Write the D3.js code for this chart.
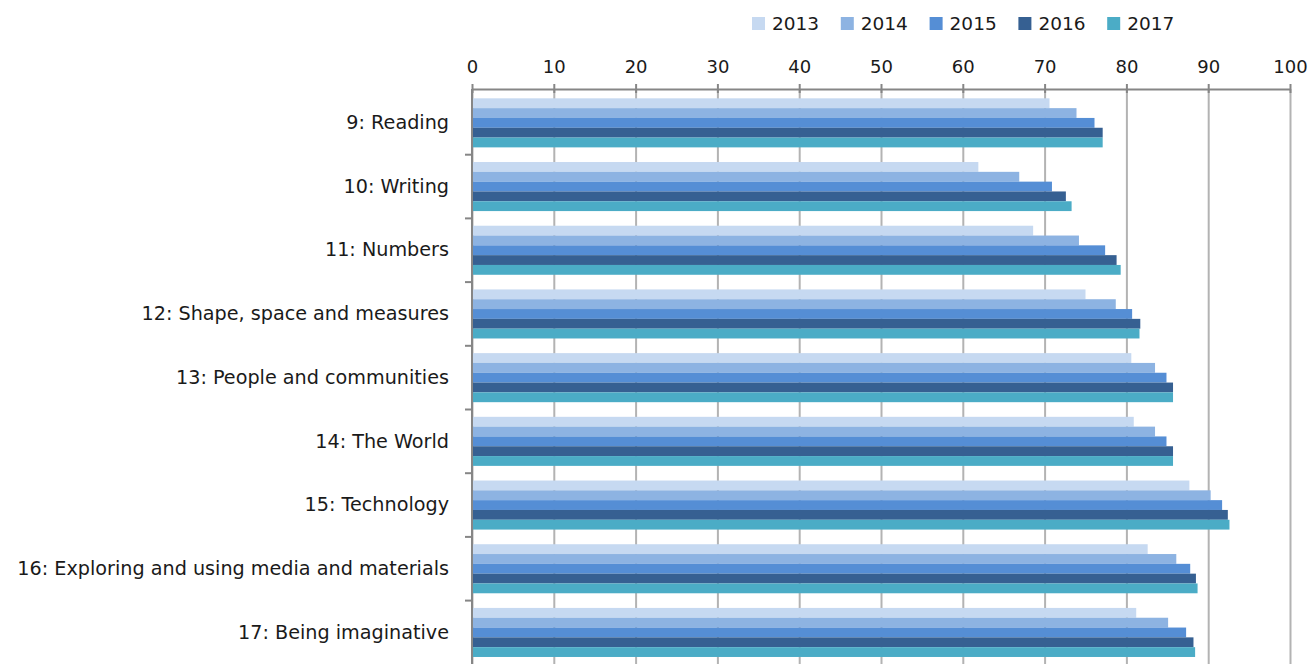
<!DOCTYPE html>
<html>
<head>
<meta charset="utf-8">
<script src="https://cdn.jsdelivr.net/npm/d3@7"></script>
<style>
  body { margin: 0; background: #fff; }
  text { font-family: "DejaVu Sans", "Open Sans", sans-serif; fill: #1a1a1a; }
</style>
</head>
<body>
<div id="chart"></div>
<script>
// data
const categories = ["9: Reading", "10: Writing", "11: Numbers", "12: Shape, space and measures",
  "13: People and communities", "14: The World", "15: Technology",
  "16: Exploring and using media and materials", "17: Being imaginative"];
const years = ["2013", "2014", "2015", "2016", "2017"];
const v2013 = [70.6, 61.9, 68.6, 75.0, 80.6, 80.9, 87.7, 82.6, 81.2];
const v2014 = [73.9, 66.9, 74.2, 78.7, 83.5, 83.5, 90.3, 86.1, 85.1];
const v2015 = [76.1, 70.9, 77.4, 80.7, 84.9, 84.9, 91.7, 87.8, 87.3];
const v2016 = [77.1, 72.6, 78.8, 81.7, 85.7, 85.7, 92.4, 88.5, 88.2];
const v2017 = [77.1, 73.3, 79.3, 81.6, 85.7, 85.7, 92.6, 88.7, 88.4];
const xTicks = [0, 10, 20, 30, 40, 50, 60, 70, 80, 90, 100];
const colors = ["#c6d9f1", "#8db3e2", "#558ed5", "#366092", "#4bacc6"];

const series = [v2013, v2014, v2015, v2016, v2017];

// dimensions
const width = 1311, height = 664;
const margin = {top: 91, right: 21, bottom: -0.3, left: 472};

const svg = d3.select("#chart")
    .append("svg")
    .attr("width", width)
    .attr("height", height);

const x = d3.scaleLinear()
    .domain([0, 100])
    .range([margin.left, width - margin.right]);

const y0 = d3.scaleBand()
    .domain(categories)
    .range([margin.top, height - margin.bottom]);

const bw = y0.bandwidth();
const y1 = d3.scaleBand()
    .domain(years)
    .range([bw * 0.115, bw * 0.885]);

// gridlines
svg.append("g")
    .attr("transform", `translate(0, ${margin.top - 2})`)
    .call(d3.axisTop(x).tickValues(xTicks).tickSize(-(height - margin.top + 4)).tickFormat(""))
    .call(g => g.select(".domain").remove())
    .call(g => g.selectAll("line").attr("stroke", "#b3b3b3").attr("stroke-width", 2));

// bars
const groups = svg.append("g")
    .selectAll("g")
    .data(categories)
    .join("g")
    .attr("transform", d => `translate(0, ${y0(d)})`);

groups.selectAll("rect")
    .data((c, i) => years.map((yr, j) => ({year: yr, value: series[j][i], color: colors[j]})))
    .join("rect")
    .attr("x", x(0))
    .attr("y", d => y1(d.year))
    .attr("width", d => x(d.value) - x(0))
    .attr("height", y1.bandwidth())
    .attr("fill", d => d.color);

// top axis
const xAxis = svg.append("g")
    .attr("transform", `translate(0, ${margin.top - 2})`)
    .call(d3.axisTop(x).tickValues(xTicks).tickSize(5).tickSizeOuter(0).tickPadding(11));
xAxis.select(".domain").attr("stroke", "#868686").attr("stroke-width", 2);
xAxis.selectAll(".tick line").attr("stroke", "#868686").attr("stroke-width", 2)
    .attr("y2", -5).clone().attr("y2", 4);
xAxis.selectAll("text").style("font-size", "18px").attr("fill", "#1a1a1a");

// left axis
const yAxis = svg.append("g")
    .attr("transform", `translate(${x(0)}, 0)`)
    .call(d3.axisLeft(y0).tickSize(0).tickPadding(23));
yAxis.select(".domain").attr("stroke", "#868686").attr("stroke-width", 2)
    .attr("d", `M0,${margin.top - 2}V${height}`);
yAxis.selectAll("text").style("font-size", "19.2px").attr("fill", "#1a1a1a");

// category boundary ticks
svg.append("g")
    .selectAll("line")
    .data(categories.slice(1))
    .join("line")
    .attr("x1", x(0) - 7)
    .attr("x2", x(0))
    .attr("y1", d => y0(d))
    .attr("y2", d => y0(d))
    .attr("stroke", "#868686")
    .attr("stroke-width", 2);

// legend
const legend = svg.append("g")
    .attr("transform", "translate(752, 24)");
const item = legend.selectAll("g")
    .data(years)
    .join("g")
    .attr("transform", (d, i) => `translate(${i * 88.8}, 0)`);
item.append("rect")
    .attr("x", 0)
    .attr("y", -7)
    .attr("width", 13)
    .attr("height", 13)
    .attr("fill", (d, i) => colors[i]);
item.append("text")
    .attr("x", 20)
    .attr("y", 0)
    .attr("dy", "0.35em")
    .style("font-size", "18.5px")
    .text(d => d);
</script>
</body>
</html>
